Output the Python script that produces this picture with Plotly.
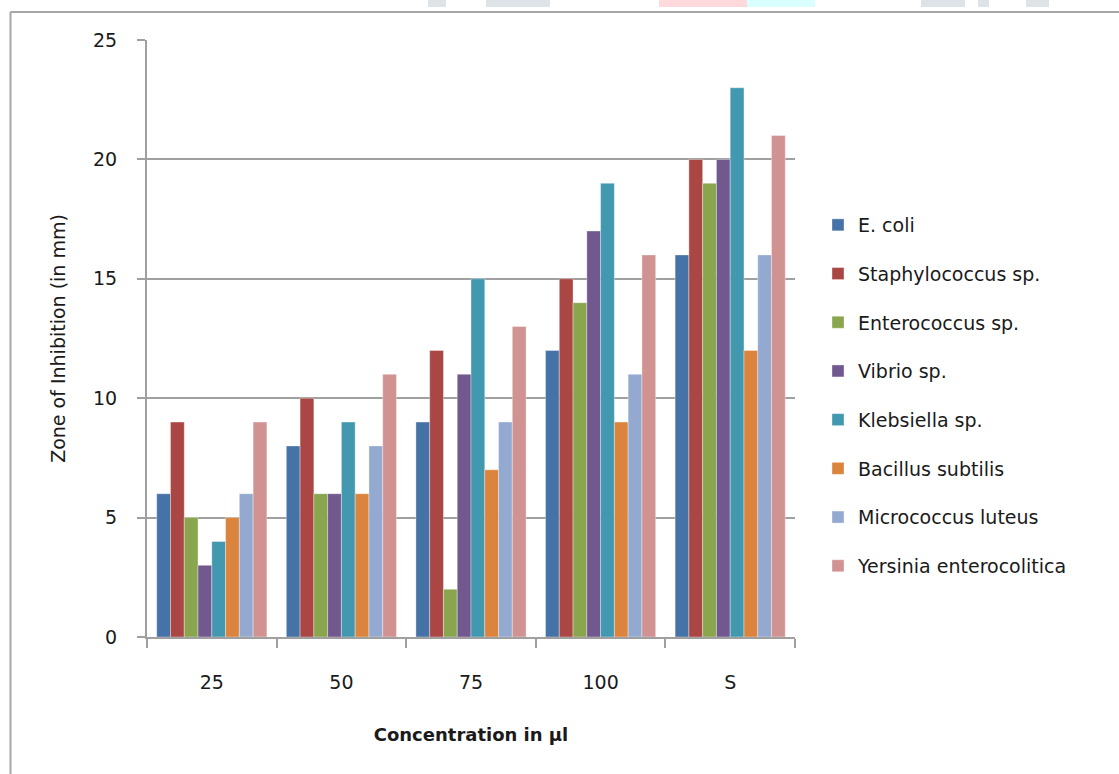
import plotly.graph_objects as go

categories = ["25", "50", "75", "100", "S"]
series_names = ["E. coli", "Staphylococcus sp.", "Enterococcus sp.", "Vibrio sp.",
                "Klebsiella sp.", "Bacillus subtilis", "Micrococcus luteus", "Yersinia enterocolitica"]
e_coli = [6, 8, 9, 12, 16]
staphylococcus = [9, 10, 12, 15, 20]
enterococcus = [5, 6, 2, 14, 19]
vibrio = [3, 6, 11, 17, 20]
klebsiella = [4, 9, 15, 19, 23]
bacillus = [5, 6, 7, 9, 12]
micrococcus = [6, 8, 9, 11, 16]
yersinia = [9, 11, 13, 16, 21]
series_values = [e_coli, staphylococcus, enterococcus, vibrio, klebsiella, bacillus, micrococcus, yersinia]
colors = ["#4572A7", "#AA4643", "#89A54E", "#71588F", "#4198AF", "#DB843D", "#93A9CF", "#D19392"]
y_ticks = [0, 5, 10, 15, 20, 25]

W, H = 1119, 774
L, R, T, B = 147, 795, 40, 637
FONT = "DejaVu Sans"
TXT = "#1a1a1a"

fig = go.Figure()
for i, (name, vals, col) in enumerate(zip(series_names, series_values, colors)):
    fig.add_trace(go.Bar(
        x=categories, y=vals, name=name, legendgroup=f"g{i}",
        marker=dict(color=col, line=dict(width=0.6, color="rgba(255,255,255,0.6)")),
    ))

def px_x(p):
    return (p - L) / (R - L)

def px_y(p):
    return (B - p) / (B - T)

shapes = []
# chart border (left and top)
shapes.append(dict(type="line", xref="paper", yref="paper", x0=px_x(10.5), x1=px_x(W + 5),
                   y0=px_y(12), y1=px_y(12), line=dict(color="#a6a6a6", width=2)))
shapes.append(dict(type="line", xref="paper", yref="paper", x0=px_x(10.5), x1=px_x(10.5),
                   y0=px_y(12), y1=px_y(H + 5), line=dict(color="#a6a6a6", width=2)))
# faint watermark fragments at the very top
wm = [(428, 446, "#dde3e6"), (486, 550, "#dde3e6"), (659, 747, "#ffd9dc"), (747, 815, "#d9ffff"),
      (921, 965, "#dde3e6"), (978, 989, "#dde3e6"), (1026, 1049, "#dde3e6")]
for x0, x1, c in wm:
    shapes.append(dict(type="rect", xref="paper", yref="paper", x0=px_x(x0), x1=px_x(x1),
                       y0=px_y(7), y1=px_y(-2), fillcolor=c, line=dict(width=0), layer="below"))

fig.update_layout(
    width=W, height=H,
    margin=dict(l=L, r=W - R, t=T, b=H - B, autoexpand=False),
    paper_bgcolor="white", plot_bgcolor="white",
    barmode="group", bargap=0.15, bargroupgap=0,
    font=dict(family=FONT, size=19, color=TXT),
    shapes=shapes,
    legend=dict(
        x=px_x(818), xanchor="left", y=px_y(395.5), yanchor="middle",
        font=dict(family=FONT, size=19, color=TXT),
        tracegroupgap=21, bgcolor="rgba(0,0,0,0)",
    ),
    xaxis=dict(
        type="category", categoryorder="array", categoryarray=categories,
        showline=True, linecolor="#a0a0a0", linewidth=2,
        ticks="outside", tickson="boundaries", ticklen=9, tickcolor="#a0a0a0", tickwidth=1.5,
        ticklabelstandoff=27,
        tickfont=dict(family=FONT, size=19, color=TXT),
        title=dict(text="<b>Concentration in µl</b>", font=dict(family=FONT, size=18, color=TXT),
                   standoff=37),
        automargin=False, showgrid=False,
    ),
    yaxis=dict(
        range=[0, 25], tickvals=y_ticks,
        showline=True, linecolor="#a0a0a0", linewidth=2,
        showgrid=True, gridcolor="#a0a0a0", gridwidth=2,
        ticks="outside", ticklen=8, tickcolor="#a0a0a0", tickwidth=1.5,
        ticklabelstandoff=16,
        tickfont=dict(family=FONT, size=19, color=TXT),
        title=dict(text="Zone of Inhibition (in mm)", font=dict(family=FONT, size=19, color=TXT),
                   standoff=22),
        automargin=False, zeroline=False,
    ),
)

fig.write_html("out.html", config={"displayModeBar": False},
               post_script="document.body.style.margin='0';document.body.style.padding='0';")
